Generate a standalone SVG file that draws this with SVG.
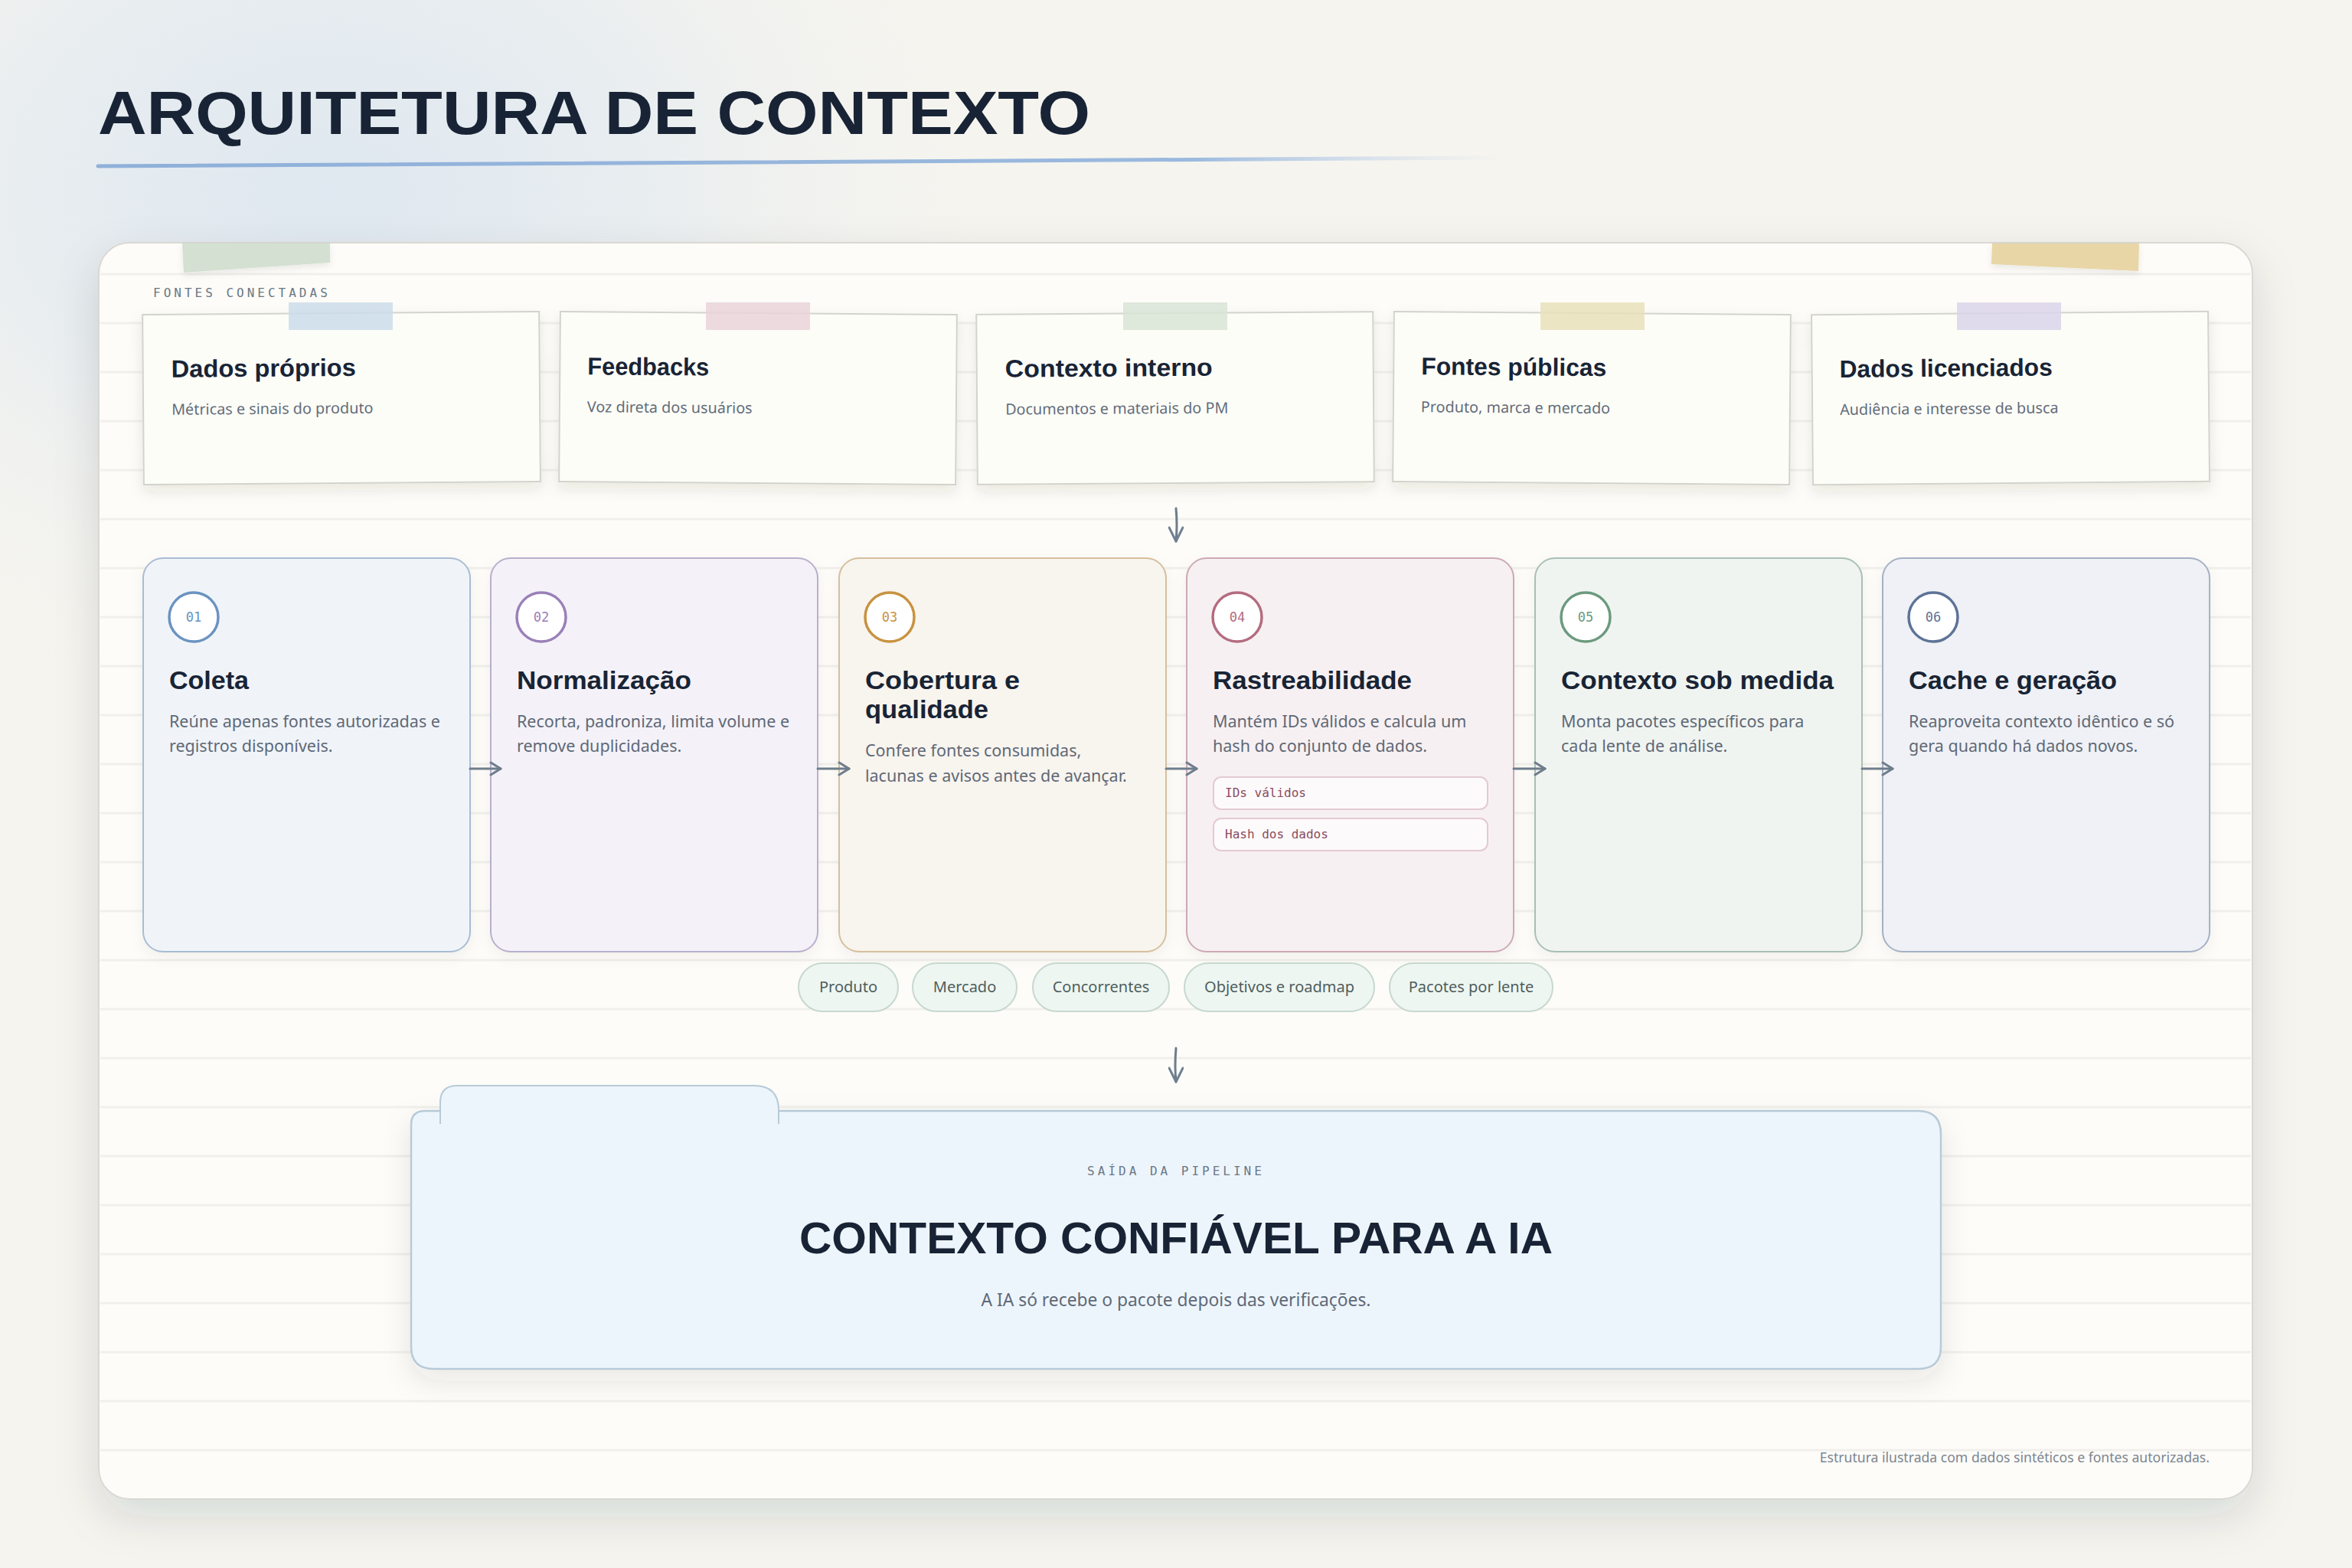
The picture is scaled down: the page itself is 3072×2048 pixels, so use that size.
<svg xmlns="http://www.w3.org/2000/svg" width="3072" height="2048" viewBox="0 0 3072 2048">
<defs>
  <radialGradient id="bgGlow" cx="430" cy="250" r="900" gradientUnits="userSpaceOnUse" gradientTransform="translate(430 250) scale(1 0.75) translate(-430 -250)">
    <stop offset="0" stop-color="#dfe8f0"/>
    <stop offset="0.45" stop-color="#e8edf0"/>
    <stop offset="1" stop-color="#f5f4ef" stop-opacity="0"/>
  </radialGradient>
  <linearGradient id="underline" x1="128" y1="0" x2="1962" y2="0" gradientUnits="userSpaceOnUse">
    <stop offset="0" stop-color="#8fb0d9"/>
    <stop offset="0.78" stop-color="#9bb9de"/>
    <stop offset="1" stop-color="#c4d5ea" stop-opacity="0"/>
  </linearGradient>
  <filter id="panelShadow" x="-10%" y="-10%" width="120%" height="125%">
    <feDropShadow dx="0" dy="22" stdDeviation="28" flood-color="#1e2a24" flood-opacity="0.13"/>
  </filter>
  <filter id="noteShadow" x="-10%" y="-15%" width="120%" height="140%">
    <feDropShadow dx="0" dy="8" stdDeviation="9" flood-color="#2a2a20" flood-opacity="0.10"/>
  </filter>
  <filter id="cardShadow" x="-10%" y="-10%" width="120%" height="125%">
    <feDropShadow dx="0" dy="6" stdDeviation="9" flood-color="#2a2a20" flood-opacity="0.05"/>
  </filter>
  <filter id="boxShadow" x="-10%" y="-20%" width="120%" height="150%">
    <feDropShadow dx="0" dy="14" stdDeviation="18" flood-color="#2a3440" flood-opacity="0.10"/>
  </filter>
  <filter id="tapeShadow" x="-10%" y="-20%" width="120%" height="160%">
    <feDropShadow dx="0" dy="4" stdDeviation="4" flood-color="#2a2a20" flood-opacity="0.08"/>
  </filter>
  <marker id="chev" viewBox="0 0 20 20" refX="17" refY="10" markerWidth="20" markerHeight="20" markerUnits="userSpaceOnUse" orient="auto">
    <path d="M4 2 L17 10 L4 18" fill="none" stroke="#6e7d8b" stroke-width="3" stroke-linecap="round" stroke-linejoin="round"/>
  </marker>
  <marker id="chevDown" viewBox="0 0 20 24" refX="10" refY="21" markerWidth="20" markerHeight="24" markerUnits="userSpaceOnUse" orient="0">
    <path d="M1 3 L10 21 L19 3" fill="none" stroke="#6e7f92" stroke-width="3" stroke-linecap="round" stroke-linejoin="round"/>
  </marker>
  <style>
    .hand { font-family: "Liberation Sans", Arial, sans-serif; font-weight: 700; fill: #182435; }
    .body { font-family: "Noto Sans", "Open Sans", sans-serif; font-size: 19.8px; fill: #636d7a; }
    .desc { font-family: "Noto Sans", "Open Sans", sans-serif; font-size: 21.5px; fill: #5f6977; }
    .label { font-family: "DejaVu Sans Mono", "Liberation Mono", monospace; font-size: 16px; letter-spacing: 4px; fill: #6b7785; }
    .note { fill: #fdfdf8; stroke: #d3d3cd; stroke-width: 2; }
    .rule { stroke: #f1f0eb; stroke-width: 3; }
    .pill { fill: #eef6f2; stroke: #c7d8cf; stroke-width: 2; }
    .pilltext { font-family: "Noto Sans", "Open Sans", sans-serif; font-size: 20px; fill: #4f5e5c; text-anchor: middle; }
    .chip { fill: #fdfafb; stroke: #e3cad3; stroke-width: 2; }
    .chiptext { font-family: "DejaVu Sans Mono", "Liberation Mono", monospace; font-size: 16px; fill: #8a4c60; }
    .conn { fill: none; stroke: #6e7d8b; stroke-width: 3; stroke-linecap: round; }
    .num { font-family: "DejaVu Sans Mono", "Liberation Mono", monospace; font-size: 17px; text-anchor: middle; }
  </style>
</defs>

<!-- page background -->
<rect x="0" y="0" width="3072" height="2048" fill="#f5f4ef"/>
<rect x="0" y="0" width="3072" height="2048" fill="url(#bgGlow)"/>

<!-- title -->
<g id="title">
  <text x="128" y="175" class="hand" font-size="80" textLength="1296" lengthAdjust="spacingAndGlyphs">ARQUITETURA DE CONTEXTO</text>
  <path d="M128 217 Q900 212 1962 206" fill="none" stroke="url(#underline)" stroke-width="5" stroke-linecap="round"/>
</g>

<!-- main panel -->
<g id="panel">
  <rect x="129" y="317" width="2813" height="1641" rx="40" fill="#fdfcf8" stroke="#d9d8d2" stroke-width="2" filter="url(#panelShadow)"/>
  <g id="rules">
    <line class="rule" x1="131" y1="358" x2="2940" y2="358"/>
    <line class="rule" x1="131" y1="422" x2="2940" y2="422"/>
    <line class="rule" x1="131" y1="486" x2="2940" y2="486"/>
    <line class="rule" x1="131" y1="550" x2="2940" y2="550"/>
    <line class="rule" x1="131" y1="614" x2="2940" y2="614"/>
    <line class="rule" x1="131" y1="678" x2="2940" y2="678"/>
    <line class="rule" x1="131" y1="742" x2="2940" y2="742"/>
    <line class="rule" x1="131" y1="806" x2="2940" y2="806"/>
    <line class="rule" x1="131" y1="870" x2="2940" y2="870"/>
    <line class="rule" x1="131" y1="934" x2="2940" y2="934"/>
    <line class="rule" x1="131" y1="998" x2="2940" y2="998"/>
    <line class="rule" x1="131" y1="1062" x2="2940" y2="1062"/>
    <line class="rule" x1="131" y1="1126" x2="2940" y2="1126"/>
    <line class="rule" x1="131" y1="1190" x2="2940" y2="1190"/>
    <line class="rule" x1="131" y1="1254" x2="2940" y2="1254"/>
    <line class="rule" x1="131" y1="1318" x2="2940" y2="1318"/>
    <line class="rule" x1="131" y1="1382" x2="2940" y2="1382"/>
    <line class="rule" x1="131" y1="1446" x2="2940" y2="1446"/>
    <line class="rule" x1="131" y1="1510" x2="2940" y2="1510"/>
    <line class="rule" x1="131" y1="1574" x2="2940" y2="1574"/>
    <line class="rule" x1="131" y1="1638" x2="2940" y2="1638"/>
    <line class="rule" x1="131" y1="1702" x2="2940" y2="1702"/>
    <line class="rule" x1="131" y1="1766" x2="2940" y2="1766"/>
    <line class="rule" x1="131" y1="1830" x2="2940" y2="1830"/>
    <line class="rule" x1="131" y1="1894" x2="2940" y2="1894"/>
  </g>
  <polygon points="238,318 431,318 431,343 240,356" fill="#d3e0d2" filter="url(#tapeShadow)"/>
  <polygon points="2602,318 2794,318 2793,354 2601,345" fill="#e8d6a7" filter="url(#tapeShadow)"/>
  <text x="200" y="388" class="label">FONTES CONECTADAS</text>
  <text x="2886" y="1910" font-family="'Noto Sans', 'Open Sans', sans-serif" font-size="17.6" fill="#7c8591" text-anchor="end">Estrutura ilustrada com dados sintéticos e fontes autorizadas.</text>
</g>

<!-- source notes -->
<g id="src-dados-proprios">
  <g transform="rotate(-0.45 446 520)">
    <rect class="note" x="187" y="409" width="518" height="222" filter="url(#noteShadow)"/>
    <text x="224" y="491" class="hand" font-size="32" textLength="241" lengthAdjust="spacingAndGlyphs">Dados próprios</text>
    <text x="224" y="540" class="body">Métricas e sinais do produto</text>
  </g>
  <rect x="377" y="395" width="136" height="36" fill="#cbdcea" fill-opacity="0.85"/>
</g>
<g id="src-feedbacks">
  <g transform="rotate(0.45 990 520)">
    <rect class="note" x="731" y="409" width="518" height="222" filter="url(#noteShadow)"/>
    <text x="767" y="491" class="hand" font-size="32" textLength="159" lengthAdjust="spacingAndGlyphs">Feedbacks</text>
    <text x="767" y="540" class="body">Voz direta dos usuários</text>
  </g>
  <rect x="922" y="395" width="136" height="36" fill="#e9d4db" fill-opacity="0.85"/>
</g>
<g id="src-contexto-interno">
  <g transform="rotate(-0.4 1535 520)">
    <rect class="note" x="1276" y="409" width="518" height="222" filter="url(#noteShadow)"/>
    <text x="1313" y="491" class="hand" font-size="32" textLength="271" lengthAdjust="spacingAndGlyphs">Contexto interno</text>
    <text x="1313" y="540" class="body">Documentos e materiais do PM</text>
  </g>
  <rect x="1467" y="395" width="136" height="36" fill="#d8e4d6" fill-opacity="0.85"/>
</g>
<g id="src-fontes-publicas">
  <g transform="rotate(0.45 2079 520)">
    <rect class="note" x="1820" y="409" width="518" height="222" filter="url(#noteShadow)"/>
    <text x="1856" y="491" class="hand" font-size="32" textLength="242" lengthAdjust="spacingAndGlyphs">Fontes públicas</text>
    <text x="1856" y="540" class="body">Produto, marca e mercado</text>
  </g>
  <rect x="2012" y="395" width="136" height="36" fill="#e9e0bb" fill-opacity="0.85"/>
</g>
<g id="src-dados-licenciados">
  <g transform="rotate(-0.5 2626 520)">
    <rect class="note" x="2367" y="409" width="518" height="222" filter="url(#noteShadow)"/>
    <text x="2403" y="491" class="hand" font-size="32" textLength="278" lengthAdjust="spacingAndGlyphs">Dados licenciados</text>
    <text x="2403" y="540" class="body">Audiência e interesse de busca</text>
  </g>
  <rect x="2556" y="395" width="136" height="36" fill="#dad5ea" fill-opacity="0.85"/>
</g>

<!-- pipeline steps -->
<g id="step-01">
  <rect x="187" y="729" width="427" height="514" rx="26" fill="#f0f4f9" stroke="#a9bcd3" stroke-width="2" filter="url(#cardShadow)"/>
  <circle cx="253" cy="806" r="32" fill="#ffffff" stroke="#6a93c0" stroke-width="3.5"/>
  <text x="253" y="812" class="num" fill="#6a93c0">01</text>
  <text x="221" y="900" class="hand" font-size="34" textLength="104" lengthAdjust="spacingAndGlyphs">Coleta</text>
  <text x="221" y="950" class="desc">Reúne apenas fontes autorizadas e</text>
  <text x="221" y="982" class="desc">registros disponíveis.</text>
</g>
<g id="step-02">
  <rect x="641" y="729" width="427" height="514" rx="26" fill="#f4f2f8" stroke="#b9afcd" stroke-width="2" filter="url(#cardShadow)"/>
  <circle cx="707" cy="806" r="32" fill="#ffffff" stroke="#9a80b8" stroke-width="3.5"/>
  <text x="707" y="812" class="num" fill="#9a80b8">02</text>
  <text x="675" y="900" class="hand" font-size="34" textLength="228" lengthAdjust="spacingAndGlyphs">Normalização</text>
  <text x="675" y="950" class="desc">Recorta, padroniza, limita volume e</text>
  <text x="675" y="982" class="desc">remove duplicidades.</text>
</g>
<g id="step-03">
  <rect x="1096" y="729" width="427" height="514" rx="26" fill="#f8f4ee" stroke="#d6bf9d" stroke-width="2" filter="url(#cardShadow)"/>
  <circle cx="1162" cy="806" r="32" fill="#ffffff" stroke="#c8923f" stroke-width="3.5"/>
  <text x="1162" y="812" class="num" fill="#c8923f">03</text>
  <text x="1130" y="900" class="hand" font-size="34" textLength="202" lengthAdjust="spacingAndGlyphs">Cobertura e</text>
  <text x="1130" y="938" class="hand" font-size="34" textLength="161" lengthAdjust="spacingAndGlyphs">qualidade</text>
  <text x="1130" y="988" class="desc">Confere fontes consumidas,</text>
  <text x="1130" y="1021" class="desc">lacunas e avisos antes de avançar.</text>
</g>
<g id="step-04">
  <rect x="1550" y="729" width="427" height="514" rx="26" fill="#f7f0f2" stroke="#cda9b5" stroke-width="2" filter="url(#cardShadow)"/>
  <circle cx="1616" cy="806" r="32" fill="#ffffff" stroke="#b36c80" stroke-width="3.5"/>
  <text x="1616" y="812" class="num" fill="#b36c80">04</text>
  <text x="1584" y="900" class="hand" font-size="34" textLength="260" lengthAdjust="spacingAndGlyphs">Rastreabilidade</text>
  <text x="1584" y="950" class="desc">Mantém IDs válidos e calcula um</text>
  <text x="1584" y="982" class="desc">hash do conjunto de dados.</text>
  <rect class="chip" x="1585" y="1015" width="358" height="42" rx="10"/>
  <text x="1600" y="1041" class="chiptext">IDs válidos</text>
  <rect class="chip" x="1585" y="1069" width="358" height="42" rx="10"/>
  <text x="1600" y="1095" class="chiptext">Hash dos dados</text>
</g>
<g id="step-05">
  <rect x="2005" y="729" width="427" height="514" rx="26" fill="#f0f4f1" stroke="#a9bfb4" stroke-width="2" filter="url(#cardShadow)"/>
  <circle cx="2071" cy="806" r="32" fill="#ffffff" stroke="#6b9a7e" stroke-width="3.5"/>
  <text x="2071" y="812" class="num" fill="#6b9a7e">05</text>
  <text x="2039" y="900" class="hand" font-size="34" textLength="356" lengthAdjust="spacingAndGlyphs">Contexto sob medida</text>
  <text x="2039" y="950" class="desc">Monta pacotes específicos para</text>
  <text x="2039" y="982" class="desc">cada lente de análise.</text>
</g>
<g id="step-06">
  <rect x="2459" y="729" width="427" height="514" rx="26" fill="#eff1f6" stroke="#a5b1c4" stroke-width="2" filter="url(#cardShadow)"/>
  <circle cx="2525" cy="806" r="32" fill="#ffffff" stroke="#5d7397" stroke-width="3.5"/>
  <text x="2525" y="812" class="num" fill="#5d7397">06</text>
  <text x="2493" y="900" class="hand" font-size="34" textLength="272" lengthAdjust="spacingAndGlyphs">Cache e geração</text>
  <text x="2493" y="950" class="desc">Reaproveita contexto idêntico e só</text>
  <text x="2493" y="982" class="desc">gera quando há dados novos.</text>
</g>

<!-- tags -->
<g id="tags">
  <rect class="pill" x="1043" y="1258" width="130" height="63" rx="31.5"/>
  <text class="pilltext" x="1108" y="1296">Produto</text>
  <rect class="pill" x="1192" y="1258" width="136" height="63" rx="31.5"/>
  <text class="pilltext" x="1260" y="1296">Mercado</text>
  <rect class="pill" x="1349" y="1258" width="178" height="63" rx="31.5"/>
  <text class="pilltext" x="1438" y="1296">Concorrentes</text>
  <rect class="pill" x="1547" y="1258" width="248" height="63" rx="31.5"/>
  <text class="pilltext" x="1671" y="1296">Objetivos e roadmap</text>
  <rect class="pill" x="1815" y="1258" width="213" height="63" rx="31.5"/>
  <text class="pilltext" x="1921.5" y="1296">Pacotes por lente</text>
</g>

<!-- output -->
<g id="output">
  <g filter="url(#boxShadow)">
    <path d="M537 1469 Q537 1451 555 1451 H2505 Q2535 1451 2535 1481 V1759 Q2535 1788 2505 1788 H567 Q537 1788 537 1759 Z" fill="#edf5fc" stroke="#b7cad8" stroke-width="2.5"/>
  </g>
  <path d="M575 1468 V1440 Q575 1418 597 1418 H985 Q1017 1418 1017 1450 V1468" fill="#edf5fc" stroke="#b7cad8" stroke-width="2"/>
  <rect x="576" y="1453" width="440" height="16" fill="#edf5fc"/>
  <text x="1536" y="1535" class="label" text-anchor="middle">SAÍDA DA PIPELINE</text>
  <text x="1536" y="1637" class="hand" font-size="58" text-anchor="middle" textLength="984" lengthAdjust="spacingAndGlyphs">CONTEXTO CONFIÁVEL PARA A IA</text>
  <text x="1536" y="1706" font-family="'Noto Sans', 'Open Sans', sans-serif" font-size="22.8" fill="#5f6977" text-anchor="middle">A IA só recebe o pacote depois das verificações.</text>
</g>

<!-- connectors -->
<g id="connectors">
  <path class="conn" d="M1536 664 Q1538 686 1536 707" marker-end="url(#chevDown)"/>
  <path class="conn" d="M614 1004 L654 1004" marker-end="url(#chev)"/>
  <path class="conn" d="M1068 1004 L1109 1004" marker-end="url(#chev)"/>
  <path class="conn" d="M1523 1004 L1563 1004" marker-end="url(#chev)"/>
  <path class="conn" d="M1977 1004 L2018 1004" marker-end="url(#chev)"/>
  <path class="conn" d="M2432 1004 L2472 1004" marker-end="url(#chev)"/>
  <path class="conn" d="M1536 1369 Q1534 1392 1536 1413" marker-end="url(#chevDown)"/>
</g>
</svg>
